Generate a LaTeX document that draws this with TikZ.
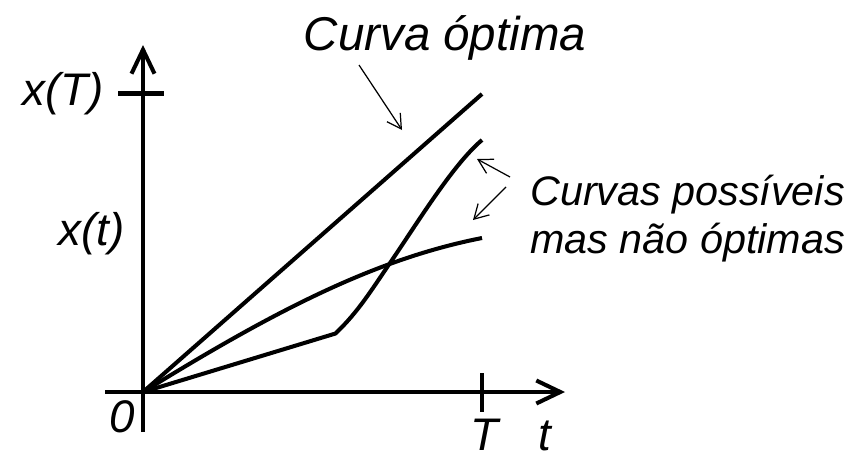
\documentclass[tikz,border=0pt]{standalone}
\usepackage{fontspec}
\setmainfont{Liberation Sans}
\usetikzlibrary{arrows.meta}

\begin{document}
\begin{tikzpicture}[
        axis/.style={line width=2.3pt, -{Straight Barb[length=4.8mm,width=4.6mm]}},
        curve/.style={line width=2.3pt, line join=round},
        pointer/.style={line width=0.7pt, -{Straight Barb[length=2.8mm,width=3.2mm]}},
        lbl/.style={font=\fontsize{26}{31}\selectfont\itshape, inner sep=0pt},
        note/.style={font=\fontsize{23.5}{28}\selectfont\itshape, inner sep=0pt}
    ]
        \def\T{6.78}
        \def\XT{5.97}
        \useasboundingbox (-2.86,-1.30) rectangle (14.24,7.84);

        % -- axes with tick marks at T and x(T) --
        \coordinate (O) at (0,0);
        \coordinate (tmin) at (-0.76,0);
        \coordinate (tmax) at (8.44,0);
        \coordinate (xmin) at (0,-0.80);
        \coordinate (xmax) at (0,6.94);
        \draw[axis] (tmin) -- (tmax);
        \draw[axis] (xmin) -- (xmax);
        \draw[curve] (\T,0.38) -- (\T,-0.40);
        \draw[curve] (-0.50,\XT) -- (0.42,\XT);

        % -- optimal curve: straight line up to x(T) --
        \draw[curve] (O) -- (\T,5.96);

        % -- possible curves: concave one and the one with a kink --
        \draw[curve] (O) .. controls (2.6,1.6) and (4.6,2.65) .. (\T,3.08);
        \draw[curve] (O) -- (3.85,1.17)
            .. controls (4.30,1.60) and (4.55,2.01) .. (4.94,2.58)
            .. controls (5.50,3.40) and (6.20,4.55) .. (\T,5.04);

        % -- axis labels --
        \node[lbl, anchor=base east] (xTlbl) at (-0.78,5.74) {x(T)};
        \node[lbl, anchor=base east] (xtlbl) at (-0.36,2.94) {x(t)};
        \node[lbl, anchor=base east] (zero) at (-0.16,-0.80) {0};
        \node[lbl, anchor=base] (Tlbl) at (6.82,-1.17) {T};
        \node[lbl, anchor=base] (tlbl) at (8.04,-1.17) {t};

        % -- notes with pointers --
        \node[lbl, font=\fontsize{27}{32}\selectfont\itshape, anchor=base] (opt) at (6.04,6.84) {Curva óptima};
        \node[note, anchor=base west] (poss) at (7.74,3.74) {Curvas possíveis};
        \node[note, anchor=base west] (nopt) at (7.74,2.78) {mas não óptimas};

        \coordinate (p0) at (4.32,6.54);
        \coordinate (q0) at (5.18,5.24);
        \coordinate (p1) at (7.34,4.30);
        \coordinate (q1) at (6.68,4.66);
        \coordinate (p2) at (7.26,4.10);
        \coordinate (q2) at (6.60,3.44);
        \draw[pointer] (p0) -- (q0);
        \draw[pointer] (p1) -- (q1);
        \draw[pointer] (p2) -- (q2);

    \end{tikzpicture}
\end{document}
